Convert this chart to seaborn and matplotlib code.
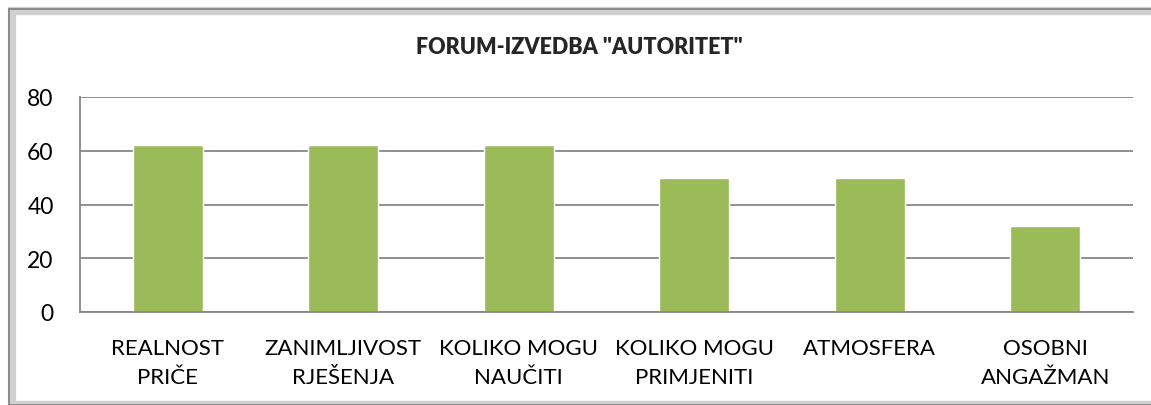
import pandas as pd
import matplotlib
matplotlib.use('Agg')
import matplotlib.pyplot as plt
import seaborn as sns
from matplotlib.patches import Rectangle

# podaci
kategorije = ['REALNOST\nPRIČE', 'ZANIMLJIVOST\nRJEŠENJA', 'KOLIKO MOGU\nNAUČITI',
              'KOLIKO MOGU\nPRIMJENITI', 'ATMOSFERA', 'OSOBNI\nANGAŽMAN']
vrijednosti = [62, 62, 62, 50, 50, 32]
y_ticks = [0, 20, 40, 60, 80]

df = pd.DataFrame({'kategorija': kategorije, 'vrijednost': vrijednosti})

sns.set_style('white')
plt.rcParams['font.family'] = ['Lato', 'DejaVu Sans']

fig = plt.figure(figsize=(11.51, 4.06), dpi=100)
ax = fig.add_axes([80/1151, 1 - 313/406, (1133-80)/1151, (313-98)/406])

sns.barplot(data=df, x='kategorija', y='vrijednost', color='#9BBB59',
            saturation=1, width=0.4, ax=ax)

ax.set_ylim(0, 80)
ax.set_yticks(y_ticks)
ax.yaxis.grid(True, color='#878787', linewidth=1.3)
ax.set_axisbelow(True)
for s in ['top', 'right']:
    ax.spines[s].set_visible(False)
for s in ['left', 'bottom']:
    ax.spines[s].set_color('#878787')
    ax.spines[s].set_linewidth(1.3)
ax.tick_params(axis='y', length=0, labelsize=16.5, colors='black', pad=19)
ax.tick_params(axis='x', length=0, labelsize=16, colors='black', pad=19)
for lbl in ax.get_xticklabels():
    lbl.set_linespacing(1.55)
ax.set_xlabel('')
ax.set_ylabel('')

fig.text(0.503, 1 - 48/406, 'FORUM-IZVEDBA "AUTORITET"', ha='center', va='center',
         fontsize=15.5, fontweight='heavy')

# okvir grafikona sa sjenom
fig.patches.append(Rectangle((12/1151, 0), 1.0, 1 - 12/406, transform=fig.transFigure,
                             fill=False, edgecolor='#D0D0D0', linewidth=6, zorder=-2))
fig.patches.append(Rectangle((9/1151, 0), 1.0, 1 - 10/406, transform=fig.transFigure,
                             fill=False, edgecolor='#7F7F7F', linewidth=1.2, zorder=-1))

plt.savefig('out.png', dpi=100)
